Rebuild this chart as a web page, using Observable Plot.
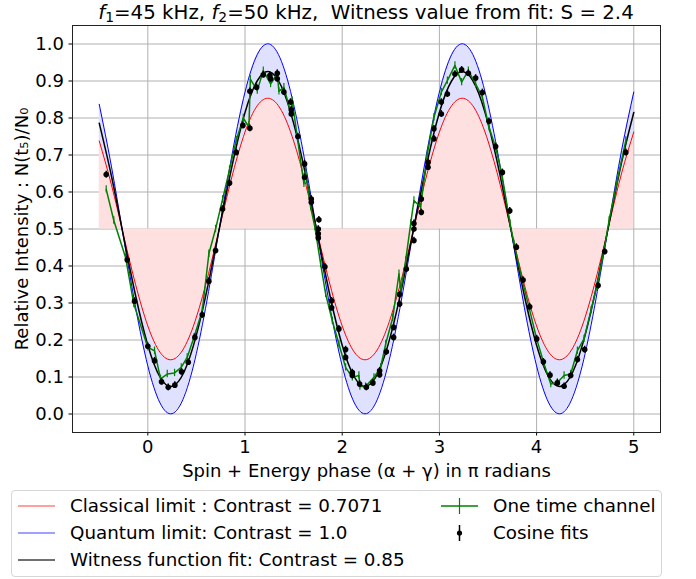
<!DOCTYPE html>
<html>
<head>
<meta charset="utf-8">
<script src="https://cdn.jsdelivr.net/npm/d3@7"></script>
<script src="https://cdn.jsdelivr.net/npm/@observablehq/plot@0.6"></script>
<style>
  body { margin: 0; background: #fff; font-family: "DejaVu Sans", sans-serif; }
  #wrap { position: relative; width: 696px; height: 579px; background: #fff; }
  #title { position: absolute; left: 72px; width: 588px; top: 2px; height: 22px; line-height: 22px;
           text-align: center; font-size: 19.8px; color: #000; white-space: pre; z-index: 2; }
  #title sub { font-size: 0.7em; line-height: 0; vertical-align: -0.22em; }
  #chart { position: absolute; left: 0; top: 22px; }
  #legend { position: absolute; left: 11px; top: 490px; width: 651px; height: 87px;
            border: 1px solid #d6d6d6; border-radius: 4px; box-sizing: border-box; background: #fff; }
  .item { position: absolute; height: 20px; font-size: 18.3px; line-height: 20px; white-space: nowrap; color: #000; }
  .item svg { position: absolute; left: 0; top: 0; }
  .item span { position: absolute; top: 0; }
</style>
</head>
<body>
<div id="wrap">
  <div id="title"><i>f</i><sub>1</sub>=45 kHz, <i>f</i><sub>2</sub>=50 kHz,  Witness value from fit: S = 2.4</div>
  <div id="chart"></div>
  <div id="legend"></div>
</div>
<script>
// ---------- data ----------
const xTicks = [0, 1, 2, 3, 4, 5];
const yTicks = [0, 0.1, 0.2, 0.3, 0.4, 0.5, 0.6, 0.7, 0.8, 0.9, 1.0];
const baseline = 0.5;

// phase grid (in π radians) for the model curves
const phase = [-0.5,-0.375,-0.25,-0.125,0,0.125,0.25,0.375,0.5,0.625,0.75,0.875,1,1.125,1.25,1.375,
  1.5,1.625,1.75,1.875,2,2.125,2.25,2.375,2.5,2.625,2.75,2.875,3,3.125,3.25,3.375,
  3.5,3.625,3.75,3.875,4,4.125,4.25,4.375,4.5,4.625,4.75,4.875,5];

const quantumY = [0.837,0.670,0.477,0.287,0.130,0.030,0.001,0.048,0.164,0.331,0.524,0.713,0.870,0.971,1.000,0.953,
  0.837,0.670,0.477,0.287,0.130,0.030,0.001,0.048,0.164,0.331,0.524,0.713,0.870,0.971,1.000,0.953,
  0.837,0.670,0.477,0.287,0.130,0.030,0.001,0.048,0.164,0.331,0.524,0.713,0.870];

const classicalY = [0.738,0.620,0.483,0.349,0.238,0.167,0.147,0.180,0.262,0.380,0.517,0.651,0.762,0.833,0.853,0.820,
  0.738,0.620,0.483,0.349,0.238,0.167,0.147,0.180,0.262,0.380,0.517,0.651,0.762,0.833,0.853,0.820,
  0.738,0.620,0.483,0.349,0.238,0.167,0.147,0.180,0.262,0.380,0.517,0.651,0.762];

const witnessY = [0.786,0.644,0.480,0.319,0.186,0.100,0.075,0.115,0.214,0.356,0.520,0.681,0.815,0.900,0.925,0.885,
  0.786,0.644,0.480,0.319,0.186,0.100,0.075,0.115,0.214,0.356,0.520,0.681,0.815,0.900,0.925,0.885,
  0.786,0.644,0.480,0.319,0.186,0.100,0.075,0.115,0.214,0.356,0.520,0.681,0.815];

// cosine-fit points
const fitX = [-0.428,-0.212,-0.137,0.000,0.069,0.141,0.210,0.278,0.347,0.416,0.484,0.560,0.628,0.697,0.769,0.841,
  0.910,0.978,1.050,1.050,1.119,1.188,1.256,1.263,1.332,1.332,1.400,1.469,1.476,1.476,1.544,1.613,1.613,1.682,1.682,
  1.754,1.754,1.754,1.760,1.822,1.891,1.891,1.966,2.035,2.035,2.104,2.104,2.179,2.248,2.316,2.385,2.385,2.454,
  2.529,2.529,2.591,2.591,2.660,2.738,2.738,2.738,2.814,2.814,2.883,2.883,2.944,2.944,3.020,3.020,3.082,3.160,
  3.229,3.298,3.373,3.442,3.510,3.579,3.648,3.724,3.792,3.861,3.929,4.001,4.070,4.138,4.214,4.283,4.351,4.420,
  4.495,4.633,4.701,4.918];
const fitY = [0.647,0.417,0.305,0.183,0.144,0.087,0.072,0.078,0.114,0.140,0.207,0.268,0.359,0.442,0.554,0.624,
  0.707,0.780,0.772,0.872,0.883,0.917,0.915,0.906,0.921,0.906,0.870,0.843,0.822,0.811,0.750,0.676,0.640,0.581,0.572,
  0.500,0.487,0.476,0.525,0.398,0.306,0.287,0.230,0.174,0.153,0.112,0.104,0.081,0.072,0.084,0.117,0.106,0.168,
  0.207,0.234,0.297,0.323,0.392,0.469,0.500,0.515,0.581,0.545,0.680,0.667,0.771,0.744,0.843,0.811,0.865,0.919,
  0.930,0.921,0.908,0.869,0.791,0.723,0.653,0.549,0.451,0.362,0.290,0.203,0.141,0.105,0.084,0.075,0.104,0.147,
  0.174,0.347,0.439,0.707];
const fitErr = 0.009;

// one time channel
const chanX = [-0.428,-0.350,-0.229,-0.144,0.000,0.069,0.131,0.200,0.275,0.344,0.405,0.474,0.560,0.628,0.697,
  0.769,0.840,0.910,0.982,1.040,1.055,1.126,1.188,1.263,1.332,1.349,1.400,1.469,1.486,1.538,1.606,1.623,1.675,
  1.719,1.778,1.829,1.898,1.966,2.035,2.104,2.172,2.182,2.240,2.327,2.395,2.447,2.520,2.584,2.602,2.653,2.705,
  2.738,2.807,2.876,2.944,3.020,3.082,3.160,3.229,3.298,3.373,3.442,3.510,3.579,3.648,3.727,3.768,3.854,3.922,
  4.001,4.077,4.146,4.214,4.283,4.351,4.420,4.488,4.560,4.626,4.694,4.746,4.830,4.918];
const chanY = [0.607,0.523,0.423,0.297,0.180,0.171,0.095,0.108,0.111,0.126,0.153,0.207,0.279,0.433,0.500,
  0.580,0.660,0.740,0.800,0.775,0.905,0.874,0.928,0.892,0.919,0.872,0.883,0.816,0.847,0.748,0.622,0.658,0.559,
  0.505,0.406,0.325,0.252,0.189,0.126,0.099,0.104,0.074,0.074,0.099,0.126,0.189,0.260,0.379,0.333,0.415,0.515,
  0.577,0.559,0.703,0.802,0.870,0.901,0.942,0.897,0.928,0.892,0.856,0.775,0.721,0.640,0.515,0.460,0.360,0.288,
  0.203,0.135,0.081,0.085,0.104,0.108,0.171,0.203,0.280,0.352,0.442,0.523,0.630,0.739];
const chanErr = 0.01;

const legendLabels = ["Classical limit : Contrast = 0.7071", "Quantum limit: Contrast = 1.0",
  "Witness function fit: Contrast = 0.85", "One time channel", "Cosine fits"];

// ---------- build ----------
const curves = phase.map((x, i) => ({x, q: quantumY[i], c: classicalY[i], w: witnessY[i]}));
const fits = fitX.map((x, i) => ({x, y: fitY[i]}));
const chan = chanX.map((x, i) => ({x, y: chanY[i]}));

const chart = Plot.plot({
  width: 696,
  height: 458,
  marginLeft: 72,
  marginRight: 36,
  marginTop: 3,
  marginBottom: 48,
  style: {fontFamily: "DejaVu Sans", fontSize: "18px", color: "#000", background: "#fff", overflow: "visible"},
  x: {domain: [-0.775, 5.275]},
  y: {domain: [-0.05, 1.05]},
  marks: [
    Plot.gridX(xTicks, {stroke: "#b0b0b0", strokeOpacity: 1, strokeWidth: 1}),
    Plot.gridY(yTicks, {stroke: "#b0b0b0", strokeOpacity: 1, strokeWidth: 1}),
    Plot.areaY(curves, {x: "x", y1: baseline, y2: "c", fill: "#ffe0e0", curve: "natural"}),
    Plot.areaY(curves, {x: "x", y1: "c", y2: "q", fill: "#e0e0ff", curve: "natural"}),
    Plot.line(curves, {x: "x", y: "c", stroke: "#ff0000", strokeWidth: 1, curve: "natural"}),
    Plot.line(curves, {x: "x", y: "q", stroke: "#0000ff", strokeWidth: 1, curve: "natural"}),
    Plot.line(curves, {x: "x", y: "w", stroke: "#000", strokeWidth: 1.5, curve: "natural"}),
    Plot.line(chan, {x: "x", y: "y", stroke: "#008000", strokeWidth: 1.5}),
    Plot.ruleX(chan, {x: "x", y1: d => d.y - chanErr, y2: d => d.y + chanErr, stroke: "#008000", strokeWidth: 1.2}),
    Plot.ruleX(fits, {x: "x", y1: d => d.y - fitErr, y2: d => d.y + fitErr, stroke: "#000", strokeWidth: 1.5}),
    Plot.dot(fits, {x: "x", y: "y", r: 2.8, fill: "#000"}),
    Plot.axisX(xTicks, {tickSize: 3.5, tickPadding: 4, tickFormat: d => String(d),
      label: "Spin + Energy phase (α + γ) in π radians", labelAnchor: "center", labelOffset: 44, labelArrow: "none"}),
    Plot.axisY(yTicks, {tickSize: 3.5, tickPadding: 5, tickFormat: d3.format(".1f"),
      label: "Relative Intensity : N(t₅)/N₀", labelAnchor: "center", labelOffset: 57, labelArrow: "none"}),
    Plot.frame({stroke: "#222", strokeWidth: 1})
  ]
});
document.getElementById("chart").appendChild(chart);

// ---------- legend ----------
const legend = document.getElementById("legend");
const rowTops = [5, 32, 59];
const items = [
  {label: legendLabels[0], left: 5, top: rowTops[0], kind: "line", color: "#ff8080"},
  {label: legendLabels[1], left: 5, top: rowTops[1], kind: "line", color: "#8080ff"},
  {label: legendLabels[2], left: 5, top: rowTops[2], kind: "line", color: "#404040"},
  {label: legendLabels[3], left: 428, top: rowTops[0], kind: "cross", color: "#008000"},
  {label: legendLabels[4], left: 428, top: rowTops[1], kind: "dotbar", color: "#000"}
];
for (const it of items) {
  const div = document.createElement("div");
  div.className = "item";
  div.style.left = it.left + "px";
  div.style.top = it.top + "px";
  let sw = "";
  if (it.kind === "line") sw = `<line x1="1" x2="38" y1="10" y2="10" stroke="${it.color}" stroke-width="1.5"/>`;
  else if (it.kind === "cross") sw = `<line x1="1" x2="38" y1="10" y2="10" stroke="${it.color}" stroke-width="1.5"/><line x1="19.5" x2="19.5" y1="2" y2="18" stroke="${it.color}" stroke-width="1.2"/>`;
  else sw = `<line x1="19.5" x2="19.5" y1="2" y2="18" stroke="${it.color}" stroke-width="1.5"/><circle cx="19.5" cy="10" r="2.6" fill="${it.color}"/>`;
  div.innerHTML = `<svg width="40" height="20">${sw}</svg><span style="left:53px">${it.label}</span>`;
  legend.appendChild(div);
}
</script>
</body>
</html>
